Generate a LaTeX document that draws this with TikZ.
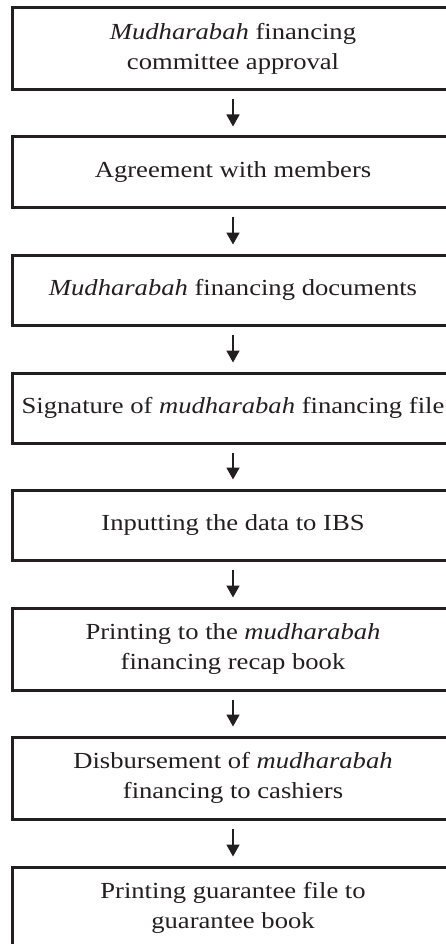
\documentclass[tikz,border=0pt]{standalone}
\usepackage{fontspec}
\setmainfont{Liberation Serif}[FakeStretch=1.157]
\usetikzlibrary{arrows.meta}
\definecolor{ink}{HTML}{231F20}
\tikzset{
  stepbox/.style={draw=ink, line width=3pt, minimum width=442pt, inner sep=0pt,
    align=center, text=ink, font=\fontsize{23}{30}\selectfont},
  onebox/.style={stepbox, minimum height=70pt},
  twobox/.style={stepbox, minimum height=82pt},
  flow/.style={draw=ink, line width=1.8pt, -{Triangle[length=12pt,width=13pt]}}
}
\begin{document}
\begin{tikzpicture}[x=1pt,y=-1pt]
  \useasboundingbox (0,0) rectangle (446,944);
  \clip (0,0) rectangle (446,944);
  \fill[white] (0,0) rectangle (446,944);
  % process steps, top to bottom
  \node[twobox] (b1) at (233,49)  {\textit{Mudharabah} financing\\committee approval};
  \node[onebox] (b2) at (233,172) {Agreement with members};
  \node[onebox] (b3) at (233,290) {\textit{Mudharabah} financing documents};
  \node[onebox] (b4) at (233,408) {Signature of \textit{mudharabah} financing file};
  \node[onebox] (b5) at (233,525) {Inputting the data to IBS};
  \node[twobox] (b6) at (233,649) {Printing to the \textit{mudharabah}\\financing recap book};
  \node[twobox] (b7) at (233,778) {Disbursement of \textit{mudharabah}\\financing to cashiers};
  \node[twobox] (b8) at (233,908) {Printing guarantee file to\\guarantee book};
  % connectors between consecutive steps
  \foreach \a/\b in {b1/b2,b2/b3,b3/b4,b4/b5,b5/b6,b6/b7,b7/b8}
    \draw[flow] ([yshift=-8pt]\a.south) -- ([yshift=9pt]\b.north);
\end{tikzpicture}
\end{document}
